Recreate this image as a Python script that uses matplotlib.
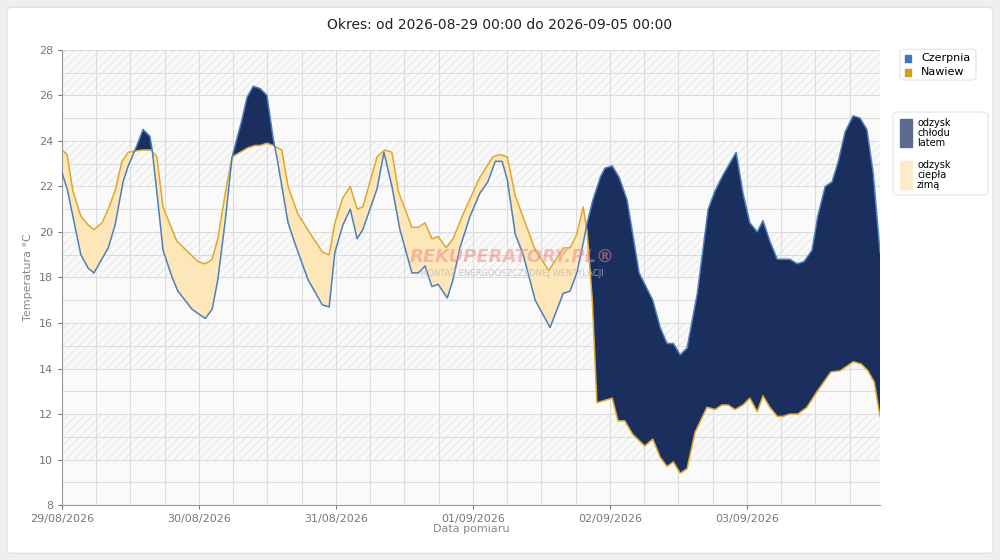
import numpy as np
import matplotlib
matplotlib.use("Agg")
import matplotlib.pyplot as plt
from matplotlib.patches import FancyBboxPatch, Rectangle

# hours since 2026-08-29 00:00
cz_t = [0,0.9,3.3,4.6,5.6,8.1,9.3,10.7,11.6,12.8,14.2,15.4,15.8,16.6,17.7,19.3,20.3,22.8,25.1,26.3,27.3,28.6,29.8,31.5,32.4,33.5,34.7,35.9,37.0,37.7,39.6,40.8,43.1,45.6,46.8,47.8,49.2,50.5,51.7,52.7,55.2,56.4,57.8,59.2,61.3,62.4,63.6,64.8,65.9,67.5,68.5,69.7,71.5,73.2,74.6,75.9,77.1,78.0,79.4,80.8,82.9,85.5,87.8,89.0,90.2,91.3,92.0,93.0,94.3,95.1,96.4,97.6,99.0,101.1,102.5,103.5,104.8,106.0,107.1,108.3,109.5,111.3,113.2,114.4,115.8,118.1,119.3,120.5,121.8,122.8,124.0,125.3,127.5,128.8,130.0,131.4,132.4,133.7,134.9,136.0,137.2,138.6,139.8,141.0,142.1,143.3]
cz_v = [22.6,21.9,19.0,18.4,18.2,19.3,20.3,22.2,22.9,23.6,24.5,24.2,23.6,21.8,19.2,18.0,17.4,16.6,16.2,16.6,17.9,20.5,23.3,24.9,25.9,26.4,26.3,26.0,24.1,23.2,20.4,19.5,17.9,16.8,16.7,19.1,20.3,21.0,19.7,20.1,21.9,23.5,22.0,20.1,18.2,18.2,18.5,17.6,17.7,17.1,17.9,19.3,20.7,21.7,22.2,23.1,23.1,22.3,19.9,19.0,17.0,15.8,17.3,17.4,18.2,19.5,20.4,21.4,22.4,22.8,22.9,22.4,21.4,18.2,17.5,17.0,15.8,15.1,15.1,14.6,14.9,17.3,21.0,21.8,22.5,23.5,21.7,20.4,20.0,20.5,19.6,18.8,18.8,18.6,18.7,19.2,20.7,22.0,22.2,23.1,24.4,25.1,25.0,24.5,22.6,19.1]
nw_t = [0,0.9,1.9,3.3,4.6,5.6,7.0,8.1,9.3,10.5,11.6,14.0,15.6,16.6,17.7,20.1,23.8,25.1,26.3,27.3,28.6,29.8,32.6,33.8,34.7,35.9,37.0,38.5,39.6,41.3,43.8,45.7,46.8,47.8,49.2,50.5,51.7,52.7,55.2,56.6,57.8,58.9,61.3,62.4,63.6,64.8,65.9,67.3,68.5,70.3,73.2,75.5,76.7,78.0,79.4,82.9,85.3,87.8,89.0,90.2,91.3,92.0,92.9,93.7,96.4,97.4,98.6,100.0,102.1,103.5,104.8,106.0,107.1,108.3,109.5,110.9,113.0,114.4,115.6,116.7,117.9,119.3,120.5,121.8,122.8,124.0,125.3,126.3,127.5,128.9,130.5,132.3,134.7,136.3,137.5,138.6,140.0,141.2,142.3,143.3]
nw_v = [23.6,23.4,21.8,20.7,20.3,20.1,20.4,21.0,21.8,23.1,23.5,23.6,23.6,23.3,21.1,19.6,18.7,18.6,18.8,19.7,21.7,23.3,23.7,23.8,23.8,23.9,23.8,23.6,22.0,20.8,19.8,19.1,19.0,20.4,21.5,22.0,21.0,21.1,23.3,23.6,23.5,21.8,20.2,20.2,20.4,19.7,19.8,19.3,19.7,20.8,22.4,23.3,23.4,23.3,21.6,19.2,18.3,19.3,19.3,19.9,21.1,20.0,17.0,12.5,12.7,11.7,11.7,11.1,10.6,10.9,10.1,9.7,9.9,9.4,9.6,11.2,12.3,12.2,12.4,12.4,12.2,12.4,12.7,12.1,12.8,12.3,11.9,11.9,12.0,12.0,12.3,13.0,13.85,13.9,14.1,14.3,14.2,13.9,13.4,11.9]
day_labels = ["29/08/2026","30/08/2026","31/08/2026","01/09/2026","02/09/2026","03/09/2026"]

fig = plt.figure(figsize=(10,5.6), dpi=100)
fig.patch.set_facecolor("#efefef")
fig.patches.append(FancyBboxPatch((0.007,0.012),0.986,0.975, boxstyle="round,pad=0,rounding_size=0.006",
    transform=fig.transFigure, facecolor="white", edgecolor="#dddddd", lw=0.8, zorder=-10))
ax = fig.add_axes([0.062,0.098,0.818,0.813])
ax.set_facecolor("#fafafa")
ax.set_xlim(0,143.3); ax.set_ylim(8,28)
for y0 in range(8,28,4):
    ax.add_patch(Rectangle((0,y0+2),143.3,2, facecolor="none", hatch="////", edgecolor="#ececec", lw=0, zorder=0))

g = np.linspace(0,143.3,3000)
c = np.interp(g, cz_t, cz_v); n = np.interp(g, nw_t, nw_v)
ax.fill_between(g, c, n, where=c>=n, interpolate=True, color="#1a2f5e", lw=0, zorder=2)
ax.fill_between(g, c, n, where=n>=c, interpolate=True, color="#fde7b8", lw=0, zorder=2)
ax.plot(nw_t, nw_v, color="#e0a82a", lw=1.1, zorder=3)
ax.plot(cz_t, cz_v, color="#4a7fc0", lw=1.1, zorder=4)

ax.set_xticks(np.arange(0,144,24)); ax.set_xticklabels(day_labels)
ax.set_xticks(np.arange(0,144,6), minor=True)
ax.set_yticks(range(8,29,2)); ax.set_yticks(range(8,29,1), minor=True)
ax.grid(True, which="both", color="#dcdcdc", lw=0.8, zorder=1)
ax.tick_params(which="both", colors="#777777", labelsize=8, length=3)
ax.tick_params(which="minor", length=0)
for s in ["top","right"]: ax.spines[s].set_visible(False)
for s in ["left","bottom"]: ax.spines[s].set_color("#999999")
ax.set_xlabel("Data pomiaru", fontsize=8, color="#888888", labelpad=0)
ax.set_ylabel("Temperatura °C", fontsize=8, color="#888888", labelpad=4)
fig.text(0.5,0.955,"Okres: od 2026-08-29 00:00 do 2026-09-05 00:00", ha="center", va="center", fontsize=10, color="#222222")
ax.text(0.55,0.545,"REKUPERATORY.PL®", transform=ax.transAxes, ha="center", va="center", fontsize=13,
        color="#f08a8a", alpha=0.55, fontweight="bold", style="italic", zorder=5)
ax.text(0.55,0.51,"MONTAŻ ENERGOOSZCZĘDNEJ WENTYLACJI", transform=ax.transAxes, ha="center", va="center",
        fontsize=6, color="#bbbbbb", alpha=0.8, zorder=5)

# legends
fig.patches.append(FancyBboxPatch((0.900,0.857),0.076,0.055, boxstyle="round,pad=0,rounding_size=0.006",
    transform=fig.transFigure, facecolor="white", edgecolor="#e4e4e4", lw=0.8))
fig.patches.append(Rectangle((0.905,0.890),0.006,0.011, transform=fig.transFigure, color="#3a78c8"))
fig.patches.append(Rectangle((0.905,0.865),0.006,0.011, transform=fig.transFigure, color="#d89c12"))
fig.text(0.921,0.896,"Czerpnia", fontsize=8, va="center")
fig.text(0.921,0.871,"Nawiew", fontsize=8, va="center")
fig.patches.append(FancyBboxPatch((0.893,0.652),0.095,0.148, boxstyle="round,pad=0,rounding_size=0.006",
    transform=fig.transFigure, facecolor="white", edgecolor="#e4e4e4", lw=0.8))
fig.patches.append(Rectangle((0.900,0.737),0.012,0.05, transform=fig.transFigure, color="#5a6a90"))
fig.patches.append(Rectangle((0.900,0.663),0.012,0.05, transform=fig.transFigure, color="#fdeccc"))
fig.text(0.917,0.762,"odzysk\nchłodu\nlatem", fontsize=7, va="center", linespacing=1.0)
fig.text(0.917,0.688,"odzysk\nciepła\nzimą", fontsize=7, va="center", linespacing=1.0)
fig.savefig("out.png", dpi=100, facecolor=fig.get_facecolor())
